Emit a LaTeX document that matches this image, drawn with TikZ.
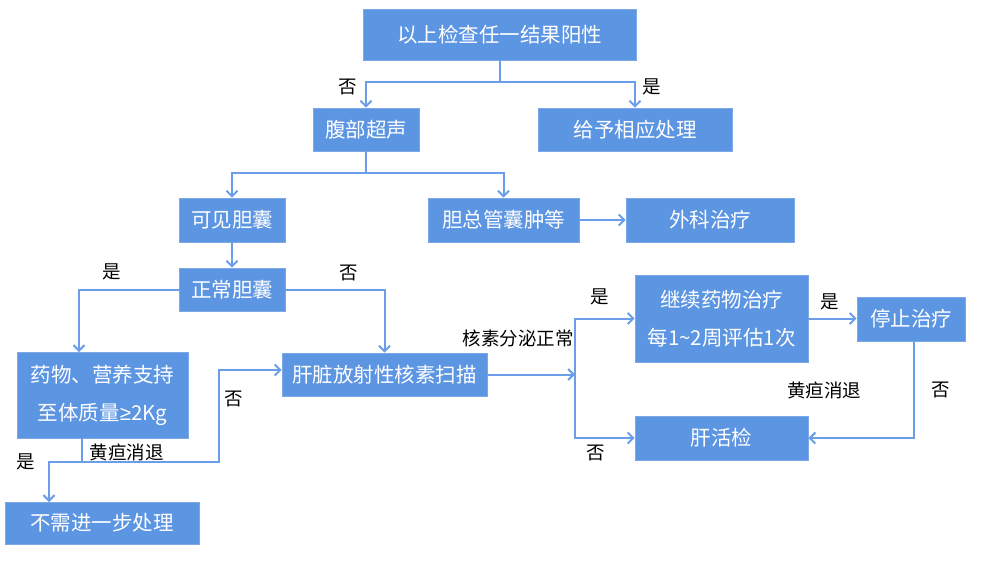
\documentclass[tikz,border=0pt]{standalone}
\usepackage{fontspec}
\setmainfont{Noto Sans CJK SC}
\newfontfamily\symfont{Liberation Sans}
\usetikzlibrary{arrows.meta}
\definecolor{boxfill}{RGB}{92,149,226}
\definecolor{boxline}{RGB}{125,168,232}
\definecolor{connc}{RGB}{106,158,232}
\begin{document}
\begin{tikzpicture}[x=1pt,y=-1pt,
 box/.style={draw=boxline, line width=0.8pt, fill=boxfill, text=white, font=\fontsize{20.5}{38}\selectfont, inner sep=0pt, align=center},
 lbl/.style={font=\fontsize{18.5}{22}\selectfont, text=black, inner sep=0pt},
 conn/.style={draw=connc, line width=2pt, -{Straight Barb[length=5.5pt,width=11pt]}},
 plain/.style={draw=connc, line width=2pt}]
\useasboundingbox (0,0) rectangle (1000,563);
\fill[white] (0,0) rectangle (1000,563);

\node[box, minimum width=273pt, minimum height=51pt] (top) at (499.5,34.5) {以上检查任一结果阳性};
\node[box, minimum width=106pt, minimum height=43pt] (fb) at (366,129.5) {腹部超声};
\node[box, minimum width=194pt, minimum height=43pt] (gy) at (635,129.5) {给予相应处理};
\node[box, minimum width=106pt, minimum height=44pt] (kj) at (232,220) {可见胆囊};
\node[box, minimum width=151pt, minimum height=44pt] (dz) at (503.5,220) {胆总管囊肿等};
\node[box, minimum width=168pt, minimum height=44pt] (wk) at (710,220) {外科治疗};
\node[box, minimum width=106pt, minimum height=43pt] (zc) at (232,289.5) {正常胆囊};
\node[box, minimum width=171pt, minimum height=86pt] (yw) at (102.5,395) {药物、营养支持\\至体质量{\symfont ≥}2Kg};
\node[box, minimum width=205pt, minimum height=43pt] (gz) at (384.5,374.5) {肝脏放射性核素扫描};
\node[box, minimum width=194pt, minimum height=42pt] (bx) at (102,523) {不需进一步处理};
\node[box, minimum width=173pt, minimum height=87pt] (jx) at (721.5,318.5) {继续药物治疗\\每1\char`\~2周评估1次};
\node[box, minimum width=108pt, minimum height=44pt] (tz) at (911,319) {停止治疗};
\node[box, minimum width=173pt, minimum height=44pt] (hj) at (721.5,438) {肝活检};

% top split
\coordinate (t1) at (499.5,82);
\draw[conn] (top.south) -- (t1) -| (fb.north);
\draw[conn] (t1) -| (gy.north);
% ultrasound split
\coordinate (f1) at (366,173);
\draw[conn] (fb.south) -- (f1) -| (kj.north);
\draw[conn] (f1) -| (dz.north);
\draw[conn] (kj.south) -- (zc.north);
\draw[conn] (dz.east) -- (wk.west);
% normal gallbladder
\coordinate (a1) at (79,352);
\draw[conn] (zc.west) -| (a1);
\draw[conn] (zc.east) -| (gz.north);
% drug support outcomes
\coordinate (b0) at (82,438);
\coordinate (b1) at (82,462);
\coordinate (b2) at (49,502);
\coordinate (c370) at (219,370);
\draw[plain] (b0) -- (b1);
\draw[conn] (b1) -| (b2);
\draw[conn] (b1) -| (c370) -- (gz.west |- c370);
% scan outcomes
\coordinate (s0) at (575,374.5);
\coordinate (s1) at (575,318.5);
\draw[conn] (gz.east) -- (s0);
\draw[conn] (hj.west -| s1) -- (s1) -- (jx.west);
\draw[conn] (s1) |- (hj.west);
\draw[conn] (jx.east) -- (jx.east -| tz.west);
\draw[conn] ([xshift=3pt]tz.south) |- (hj.east);

% labels
\node[lbl] (l1) at (348,87) {否};
\node[lbl] (l2) at (652,87) {是};
\node[lbl] (l3) at (112,272) {是};
\node[lbl] (l4) at (349,273) {否};
\node[lbl] (l5) at (126.5,452) {黄疸消退};
\node[lbl] (l6) at (26,462) {是};
\node[lbl] (l7) at (234,399) {否};
\node[lbl] (l8) at (518,338) {核素分泌正常};
\node[lbl] (l9) at (600,297) {是};
\node[lbl] (l10) at (596,453) {否};
\node[lbl] (l11) at (830,302) {是};
\node[lbl] (l12) at (824,390) {黄疸消退};
\node[lbl] (l13) at (941,390) {否};
\end{tikzpicture}
\end{document}
